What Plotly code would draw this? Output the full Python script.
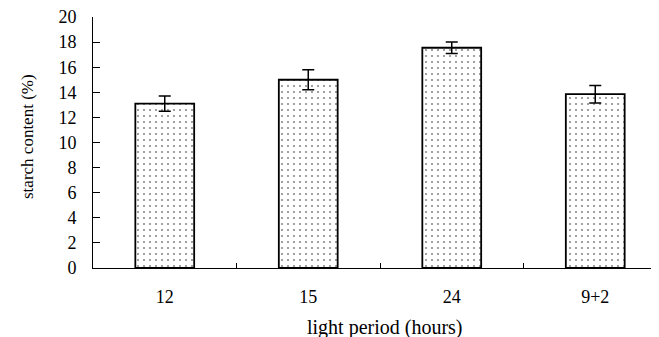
import plotly.graph_objects as go

categories = ["12", "15", "24", "9+2"]
starch = [13.1, 15.0, 17.55, 13.85]
errors = [0.6, 0.8, 0.45, 0.7]
y_ticks = [0, 2, 4, 6, 8, 10, 12, 14, 16, 18, 20]
x_title = "light period (hours)"
y_title = "starch content (%)"

fig = go.Figure()
fig.add_trace(go.Bar(
    x=categories, y=starch, width=0.41,
    marker=dict(color="white", line=dict(color="black", width=1.8),
                pattern=dict(shape=".", fgcolor="#111", bgcolor="white", size=6, solidity=0.1)),
    error_y=dict(type="data", array=errors, visible=True, color="black", thickness=1.5, width=6),
))

font_family = "Liberation Serif"
fig.update_layout(
    width=659, height=337,
    margin=dict(l=85, r=0, t=9, b=77),
    paper_bgcolor="white", plot_bgcolor="white",
    showlegend=False,
    font=dict(family=font_family, color="black", size=18),
    xaxis=dict(
        type="category", range=[-0.5, 3.5], automargin=False,
        showline=True, linecolor="black", linewidth=1,
        ticks="inside", ticklen=5, tickcolor="black", tickson="boundaries",
        showgrid=False, zeroline=False,
        tickfont=dict(size=18), ticklabelstandoff=12, ticklabeloverflow="allow",
    ),
    yaxis=dict(
        range=[0, 20], tickvals=y_ticks, automargin=False,
        showline=True, linecolor="black", linewidth=1,
        ticks="inside", ticklen=7, tickcolor="black",
        showgrid=False, zeroline=False,
        tickfont=dict(size=18), ticklabelstandoff=12, ticklabeloverflow="allow",
    ),
    annotations=[
        dict(text=x_title, xref="paper", yref="paper", x=(385 - 93) / 574, y=-(327 - 268) / 251,
             xanchor="center", yanchor="middle", showarrow=False, font=dict(size=20)),
        dict(text=y_title, xref="paper", yref="paper", x=(27 - 93) / 574, y=(268 - 137) / 251,
             xanchor="center", yanchor="middle", textangle=-90, showarrow=False, font=dict(size=17)),
    ],
)

fig.write_html("out.html")
